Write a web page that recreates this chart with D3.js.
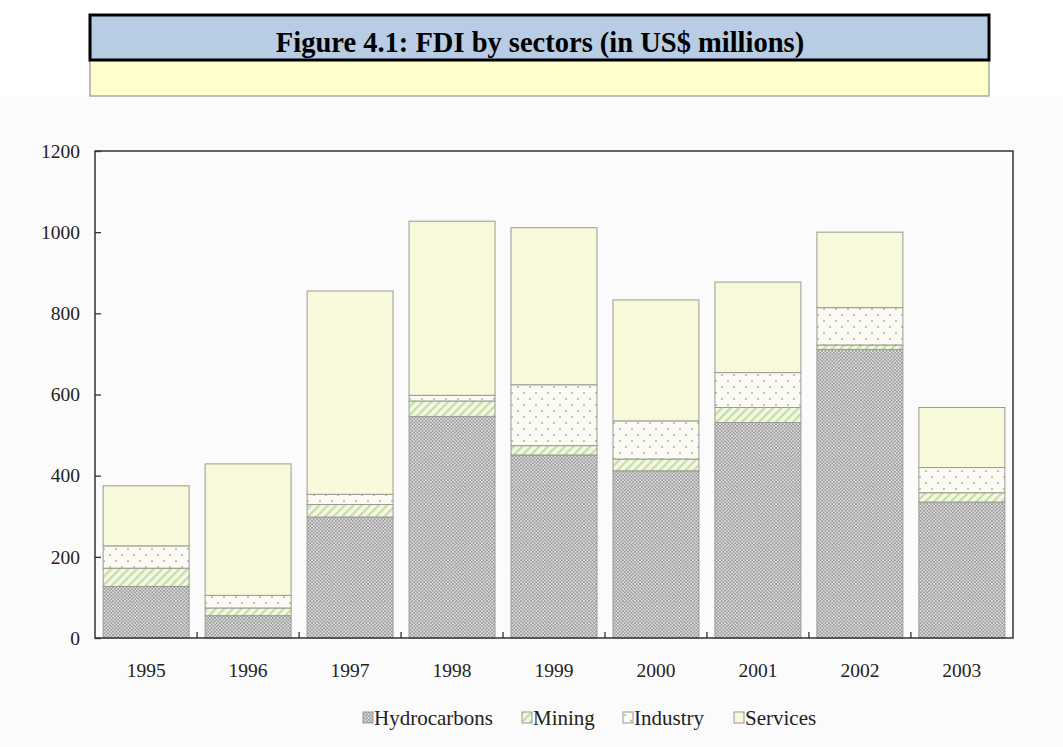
<!DOCTYPE html>
<html>
<head>
<meta charset="utf-8">
<script src="https://cdn.jsdelivr.net/npm/d3@7"></script>
<style>
  html, body { margin: 0; padding: 0; background: #ffffff; }
  svg { display: block; }
</style>
</head>
<body>
<svg id="chart" width="1063" height="747"></svg>
<script>
// FDI by sector, US$ millions
const years = ["1995", "1996", "1997", "1998", "1999", "2000", "2001", "2002", "2003"];
const sectors = ["Hydrocarbons", "Mining", "Industry", "Services"];
const hydrocarbons = [127, 55, 298, 546, 451, 412, 531, 711, 335];
const mining       = [45, 19, 31, 38, 23, 29, 37, 11, 23];
const industry     = [55, 31, 25, 14, 150, 94, 86, 92, 62];
const services     = [148, 324, 501, 429, 387, 298, 223, 186, 148];
const yTicks = [0, 200, 400, 600, 800, 1000, 1200];
const titleText = "Figure 4.1: FDI by sectors (in US$ millions)";

const rows = years.map((y, i) => ({
  year: y,
  Hydrocarbons: hydrocarbons[i],
  Mining: mining[i],
  Industry: industry[i],
  Services: services[i]
}));

const serif = "Liberation Serif, Times New Roman, serif";
const svg = d3.select("#chart");
const W = 1063, H = 747;
const m = { left: 95, right: 50, top: 151, bottom: 109 };

// page background below the heading
svg.append("rect").attr("x", 0).attr("y", 97).attr("width", W).attr("height", H - 97).attr("fill", "#fbfbfb");

// heading boxes
svg.append("rect").attr("x", 90).attr("y", 60).attr("width", 899).attr("height", 36)
  .attr("fill", "#ffffcc").attr("stroke", "#a8a8a8").attr("stroke-width", 1.5);
svg.append("rect").attr("x", 90).attr("y", 15).attr("width", 899).attr("height", 45)
  .attr("fill", "#b8cce4").attr("stroke", "#000").attr("stroke-width", 3);
svg.append("text").attr("x", 540).attr("y", 52).attr("text-anchor", "middle")
  .attr("font-family", serif).attr("font-weight", "bold")
  .attr("font-size", 28.5).attr("fill", "#000").text(titleText);

// fill patterns
const defs = svg.append("defs");
const pHyd = defs.append("pattern").attr("id", "pat-hyd").attr("patternUnits", "userSpaceOnUse")
  .attr("width", 3.4).attr("height", 3.4);
pHyd.append("rect").attr("width", 3.4).attr("height", 3.4).attr("fill", "#939393");
pHyd.append("circle").attr("cx", 0.85).attr("cy", 0.85).attr("r", 1.0).attr("fill", "#e2e2e2");
pHyd.append("circle").attr("cx", 2.55).attr("cy", 2.55).attr("r", 1.0).attr("fill", "#e2e2e2");

const pMin = defs.append("pattern").attr("id", "pat-min").attr("patternUnits", "userSpaceOnUse")
  .attr("width", 6).attr("height", 6).attr("patternTransform", "rotate(45)");
pMin.append("rect").attr("width", 6).attr("height", 6).attr("fill", "#f4f7e6");
pMin.append("rect").attr("x", 0).attr("y", 0).attr("width", 2.2).attr("height", 6).attr("fill", "#c4dea4");

const pInd = defs.append("pattern").attr("id", "pat-ind").attr("patternUnits", "userSpaceOnUse")
  .attr("width", 12).attr("height", 12);
pInd.append("rect").attr("width", 12).attr("height", 12).attr("fill", "#fbfbf3");
pInd.append("circle").attr("cx", 2).attr("cy", 3).attr("r", 1).attr("fill", "#b0b0a6");
pInd.append("circle").attr("cx", 8).attr("cy", 9).attr("r", 1).attr("fill", "#b0b0a6");

const fills = {
  Hydrocarbons: "url(#pat-hyd)",
  Mining: "url(#pat-min)",
  Industry: "url(#pat-ind)",
  Services: "#f8f8da"
};

const x = d3.scaleBand().domain(years).range([m.left, W - m.right]).paddingInner(0.157).paddingOuter(0.08);
const y = d3.scaleLinear().domain([0, 1200]).range([H - m.bottom, m.top]);

const stack = d3.stack().keys(sectors)(rows);

const plot = svg.append("g");
plot.selectAll("g.layer").data(stack).join("g")
  .attr("class", "layer")
  .attr("fill", d => fills[d.key])
  .selectAll("rect").data(d => d).join("rect")
  .attr("x", d => x(d.data.year))
  .attr("width", x.bandwidth())
  .attr("y", d => y(d[1]))
  .attr("height", d => y(d[0]) - y(d[1]))
  .attr("stroke", "#9a9a90")
  .attr("stroke-width", 1);

// frame
svg.append("rect").attr("x", m.left).attr("y", m.top)
  .attr("width", W - m.right - m.left).attr("height", H - m.bottom - m.top)
  .attr("fill", "none").attr("stroke", "#333").attr("stroke-width", 1.5);

// y axis: inward ticks
const yAxis = svg.append("g").attr("transform", `translate(${m.left},0)`)
  .call(d3.axisLeft(y).tickValues(yTicks).tickSize(-6).tickPadding(15).tickFormat(d3.format("d")));
yAxis.select(".domain").remove();
yAxis.selectAll("line").attr("stroke", "#333").attr("stroke-width", 1.3);
yAxis.selectAll("text").attr("font-family", serif)
  .attr("font-size", 19.5).attr("fill", "#222");

// x axis: category labels and inward boundary ticks
const xAxis = svg.append("g").attr("transform", `translate(0,${H - m.bottom})`)
  .call(d3.axisBottom(x).tickSize(0).tickPadding(25));
xAxis.select(".domain").remove();
xAxis.selectAll("text").attr("font-family", serif)
  .attr("font-size", 19.5).attr("fill", "#222");
const step = x.step();
const bounds = years.slice(1).map(yr => x(yr) - step * x.paddingInner() / 2);
svg.append("g").selectAll("line").data(bounds).join("line")
  .attr("x1", d => d).attr("x2", d => d)
  .attr("y1", H - m.bottom).attr("y2", H - m.bottom - 6)
  .attr("stroke", "#333").attr("stroke-width", 1.3);

// legend
const legendX = [363, 522, 623, 734];
const lg = svg.append("g").selectAll("g").data(sectors).join("g")
  .attr("transform", (d, i) => `translate(${legendX[i]},712)`);
lg.append("rect").attr("width", 10).attr("height", 11)
  .attr("fill", d => fills[d]).attr("stroke", "#999").attr("stroke-width", 1);
lg.append("text").attr("x", 11).attr("y", 13)
  .attr("font-family", serif).attr("font-size", 21)
  .attr("fill", "#222").text(d => d);
</script>
</body>
</html>
